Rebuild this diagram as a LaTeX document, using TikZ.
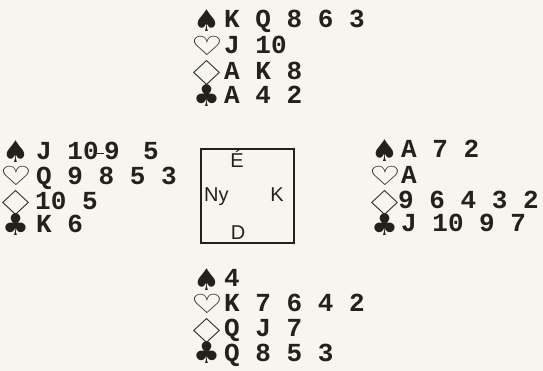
\documentclass[tikz,border=0pt]{standalone}
\usepackage{fontspec}
\setmonofont{Liberation Mono}
\newfontfamily\suitfont{DejaVu Sans}
\newfontfamily\labfont{Liberation Sans}
\definecolor{ink}{RGB}{35,32,30}
\definecolor{paper}{RGB}{247,245,240}
\newcommand\hsuit{\scalebox{1.2}[0.88]{\bfseries ♡}}
\newcommand\dsuit{\scalebox{1.6}[1.15]{\bfseries ♢}}
\begin{document}
\begin{tikzpicture}[x=1pt,y=-1pt,
  card/.style={anchor=base west,inner sep=0,font=\ttfamily\bfseries\fontsize{26}{26}\selectfont,text=ink},
  suit/.style={inner sep=0,text height=15.6pt,text depth=0pt,font=\suitfont\fontsize{30}{30}\selectfont,text=ink},
  lab/.style={inner sep=0,anchor=base,font=\labfont\fontsize{20}{20}\selectfont,text=ink}]
\fill[paper] (0,0) rectangle (543,371);
\useasboundingbox (0,0) rectangle (543,371);
% North
\node[suit] (ns) at (207,24) {♠};
\node[suit] (nh) at (207,48) {\hsuit};
\node[suit] (nd) at (207,78) {\dsuit};
\node[suit] (nc) at (207,99) {♣};
\node[card] (nS) at (224,28) {K Q 8 6 3};
\node[card] (nH) at (224,54) {J 10};
\node[card] (nD) at (224,80) {A K 8};
\node[card] (nC) at (224,104) {A 4 2};
% West
\node[suit] (ws) at (16,155) {♠};
\node[suit] (wh) at (16,178) {\hsuit};
\node[suit] (wd) at (16,208) {\dsuit};
\node[suit] (wc) at (16,228) {♣};
\node[card] (wS1) at (36,160) {J 10};
\node[card] (wS2) at (104,160) {9};
\node[card] (wS3) at (143,160) {5};
\draw[ink,line width=0.5pt] ([yshift=7pt,xshift=-2pt]wS1.base east) -- ([yshift=7pt]wS2.base west);
\node[card] (wH) at (36,185) {Q 9 8 5 3};
\node[card] (wD) at (35,210) {10 5};
\node[card] (wC) at (36,233) {K 6};
% East
\node[suit] (es) at (385,154) {♠};
\node[suit] (eh) at (385,178) {\hsuit};
\node[suit] (ed) at (385,208) {\dsuit};
\node[suit] (ec) at (385,228) {♣};
\node[card] (eS) at (401,158) {A 7 2};
\node[card] (eH) at (401,184) {A};
\node[card] (eD) at (398,209) {9 6 4 3 2};
\node[card] (eC) at (401,232) {J 10 9 7};
% South
\node[suit] (ss) at (207,283) {♠};
\node[suit] (sh) at (207,306) {\hsuit};
\node[suit] (sd) at (207,336) {\dsuit};
\node[suit] (sc) at (207,356) {♣};
\node[card] (sS) at (224,286) {4};
\node[card] (sH) at (224,311) {K 7 6 4 2};
\node[card] (sD) at (224,336) {Q J 7};
\node[card] (sC) at (224,361) {Q 8 5 3};
% Table box
\node[draw=ink,line width=1.2pt,minimum width=93pt,minimum height=94pt,inner sep=0] (box) at (247.5,196) {};
\node[lab] (lN) at (237,168) {É};
\node[lab,anchor=base west] (lW) at (204,202) {Ny};
\node[lab] (lE) at (277,202) {K};
\node[lab] (lS) at (238,240) {D};
\end{tikzpicture}
\end{document}
